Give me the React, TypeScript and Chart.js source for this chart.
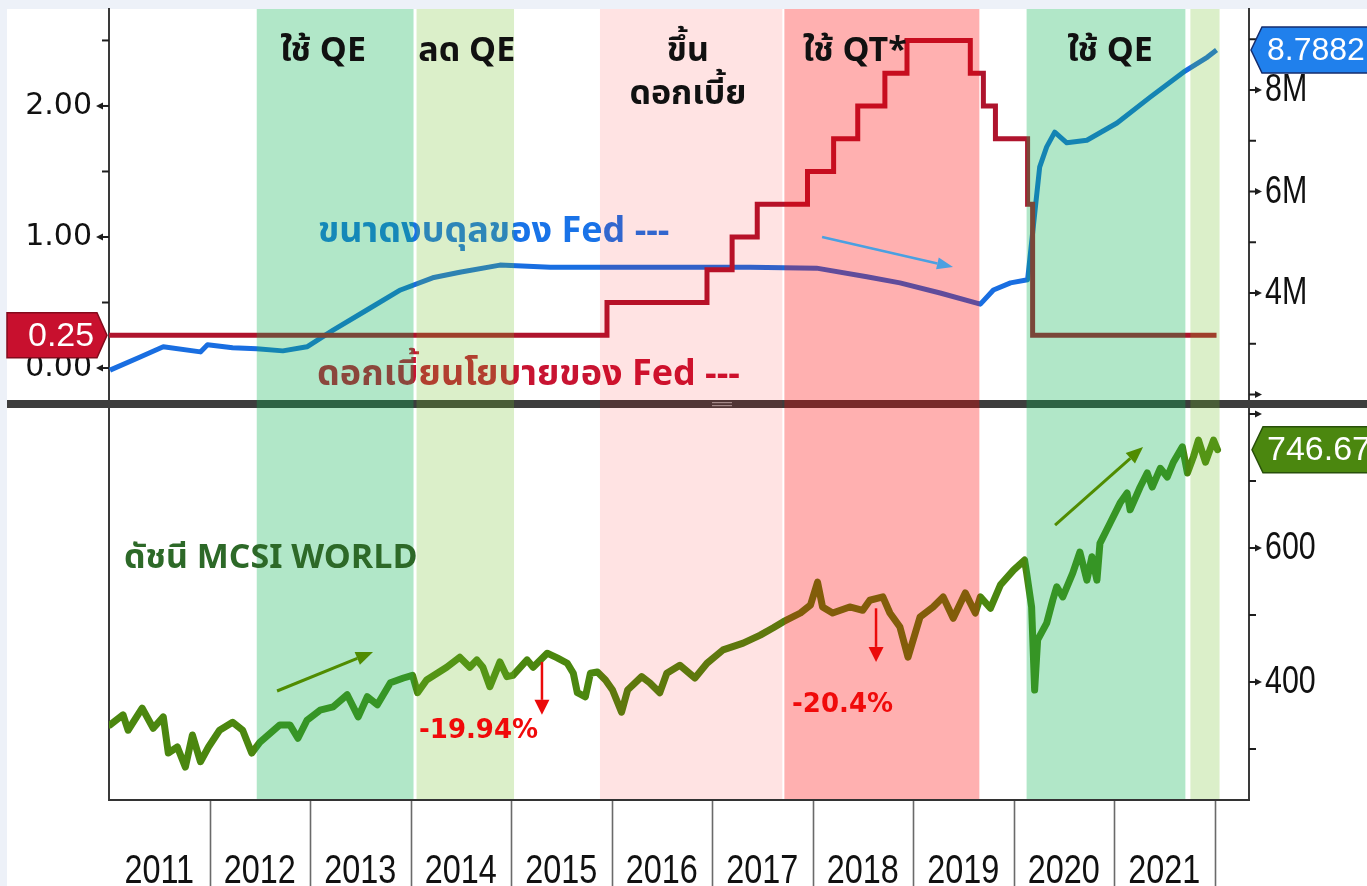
import React, { useEffect, useRef } from 'react';
import { Chart, registerables } from 'chart.js';

Chart.register(...registerables);

// ---------------- data ----------------
const xMin = 2011;
const xMax = 2022.343;

// Fed funds rate (upper bound, %), step changes
const rateDates = [2011.0, 2015.955, 2016.95, 2017.2, 2017.45, 2017.95, 2018.21, 2018.45, 2018.72, 2018.94, 2019.57, 2019.7, 2019.82, 2020.14, 2020.19, 2022.02];
const rateValues = [0.25, 0.5, 0.75, 1.0, 1.25, 1.5, 1.75, 2.0, 2.25, 2.5, 2.25, 2.0, 1.75, 1.25, 0.25, 0.25];

// Fed balance sheet (M)
const balanceDates = [2011.01, 2011.31, 2011.54, 2011.91, 2011.98, 2012.23, 2012.47, 2012.73, 2012.97, 2013.23, 2013.57, 2013.9, 2014.22, 2014.49, 2014.89, 2015.39, 2016.38, 2017.38, 2018.04, 2018.54, 2018.87, 2019.27, 2019.67, 2019.8, 2019.97, 2020.14, 2020.19, 2020.26, 2020.33, 2020.41, 2020.53, 2020.73, 2021.03, 2021.36, 2021.69, 2021.93, 2022.02];
const balanceValues = [2.48, 2.74, 2.94, 2.84, 2.98, 2.92, 2.9, 2.86, 2.94, 3.27, 3.67, 4.06, 4.3, 4.41, 4.55, 4.51, 4.51, 4.51, 4.49, 4.32, 4.2, 4.0, 3.78, 4.06, 4.2, 4.26, 5.18, 6.48, 6.88, 7.17, 6.96, 7.01, 7.35, 7.86, 8.35, 8.65, 8.7882];

// MSCI World index
const msciDates = [2011.01, 2011.14, 2011.19, 2011.33, 2011.44, 2011.54, 2011.59, 2011.68, 2011.76, 2011.83, 2011.91, 2011.99, 2012.1, 2012.23, 2012.33, 2012.42, 2012.5, 2012.7, 2012.8, 2012.88, 2012.97, 2013.1, 2013.23, 2013.37, 2013.48, 2013.57, 2013.67, 2013.8, 2013.93, 2014.02, 2014.07, 2014.16, 2014.36, 2014.49, 2014.59, 2014.66, 2014.72, 2014.79, 2014.89, 2014.96, 2015.02, 2015.16, 2015.22, 2015.36, 2015.46, 2015.56, 2015.62, 2015.66, 2015.74, 2015.79, 2015.86, 2015.94, 2016.01, 2016.1, 2016.16, 2016.3, 2016.38, 2016.48, 2016.55, 2016.68, 2016.83, 2016.95, 2017.11, 2017.31, 2017.48, 2017.61, 2017.71, 2017.88, 2017.98, 2018.05, 2018.1, 2018.2, 2018.37, 2018.5, 2018.57, 2018.7, 2018.77, 2018.87, 2018.95, 2019.07, 2019.2, 2019.3, 2019.4, 2019.52, 2019.62, 2019.67, 2019.77, 2019.87, 2020.0, 2020.11, 2020.13, 2020.18, 2020.21, 2020.24, 2020.33, 2020.39, 2020.43, 2020.49, 2020.59, 2020.66, 2020.73, 2020.78, 2020.83, 2020.86, 2020.96, 2021.06, 2021.13, 2021.16, 2021.26, 2021.33, 2021.38, 2021.46, 2021.53, 2021.59, 2021.68, 2021.73, 2021.79, 2021.84, 2021.91, 2021.99, 2022.03];
const msciValues = [336, 351, 328, 361, 331, 348, 294, 303, 273, 321, 281, 303, 328, 340, 328, 294, 310, 336, 336, 316, 343, 358, 363, 381, 348, 378, 366, 399, 406, 410, 384, 403, 422, 437, 422, 433, 422, 393, 430, 408, 410, 433, 422, 443, 436, 428, 413, 384, 378, 413, 415, 403, 388, 355, 388, 408, 399, 384, 413, 425, 406, 428, 448, 458, 470, 481, 490, 503, 515, 549, 512, 503, 512, 507, 522, 527, 503, 482, 437, 497, 512, 527, 495, 533, 503, 527, 510, 545, 567, 582, 563, 512, 388, 463, 488, 522, 542, 527, 563, 594, 552, 587, 552, 607, 637, 667, 682, 657, 691, 712, 691, 719, 706, 728, 751, 712, 736, 761, 728, 761, 746.67];

// axes
const yearLabels = [2011, 2012, 2013, 2014, 2015, 2016, 2017, 2018, 2019, 2020, 2021];
const yearSeparators = [2012, 2013, 2014, 2015, 2016, 2017, 2018, 2019, 2020, 2021, 2022];
const rateTickValues = [0, 1, 2];
const rateMinorMarks = [0.5, 1.5, 2.5];
const balanceTickValues = [4, 6, 8];
const balanceMajorMarks = [2, 4, 6, 8];
const balanceMinorMarks = [3, 5, 7, 9];
const msciTickValues = [400, 600];
const msciMajorMarks = [400, 600, 800];
const msciMinorMarks = [300, 500, 700];

// shaded periods
const bandStarts = [2012.47, 2014.06, 2015.885, 2017.72, 2020.13, 2021.76];
const bandEnds = [2014.03, 2015.03, 2017.7, 2019.66, 2021.71, 2022.05];
const bandColors = ['rgba(11,180,83,0.32)', 'rgba(110,190,40,0.25)', 'rgba(255,0,0,0.11)', 'rgba(255,0,0,0.31)', 'rgba(11,180,83,0.32)', 'rgba(110,190,40,0.25)'];
const bandTitles = [['ใช้ QE'], ['ลด QE'], ['ขึ้น', 'ดอกเบี้ย'], ['ใช้ QT*'], ['ใช้ QE']];
const bandTitleX = [2013.13, 2014.56, 2016.76, 2018.42, 2020.96];
const bandTitleRate = 2.344;

// annotations (data units)
const balanceLabel = 'ขนาดงบดุลของ Fed ---';
const balanceLabelAt = [2013.08, 0.962];
const rateLabel = 'ดอกเบี้ยนโยบายของ Fed ---';
const rateLabelAt = [2013.07, -0.13];
const blueArrowFrom = [2018.095, 1.0];
const blueArrowTo = [2019.398, 0.771];
const msciLabel = 'ดัชนี MCSI WORLD';
const msciLabelAt = [2011.149, 570];
const dropLabels = ['-19.94%', '-20.4%'];
const dropLabelX = [2014.677, 2018.299];
const dropLabelY = [316.4, 355];
const dropArrowX = [2015.308, 2018.632];
const dropArrowFrom = [430, 510];
const dropArrowTo = [351, 430];
const trendArrowFrom = [[2012.672, 386.6], [2020.413, 634.3]];
const trendArrowTo = [[2013.627, 444.8], [2021.289, 750.7]];

// ---------------- styles ----------------
const THAI = '"Noto Sans Thai", "Noto Sans Thai UI", "Noto Sans", "DejaVu Sans", sans-serif';
const SANS = '"Liberation Sans", Arial, sans-serif';
const RED = 'rgb(175,20,45)';
const BLUE = 'rgb(25,110,225)';
const GREEN = 'rgb(75,135,15)';
const LEFT_W = 109;
const RIGHT_W = 118;

function arrow(ctx: CanvasRenderingContext2D, x1: number, y1: number, x2: number, y2: number, color: string, width: number, head: number, headW: number) {
  const a = Math.atan2(y2 - y1, x2 - x1);
  const bx = x2 - head * Math.cos(a);
  const by = y2 - head * Math.sin(a);
  ctx.save();
  ctx.strokeStyle = color;
  ctx.fillStyle = color;
  ctx.lineWidth = width;
  ctx.beginPath();
  ctx.moveTo(x1, y1);
  ctx.lineTo(bx, by);
  ctx.stroke();
  ctx.beginPath();
  ctx.moveTo(x2, y2);
  ctx.lineTo(bx + (headW / 2) * Math.sin(a), by - (headW / 2) * Math.cos(a));
  ctx.lineTo(bx - (headW / 2) * Math.sin(a), by + (headW / 2) * Math.cos(a));
  ctx.closePath();
  ctx.fill();
  ctx.restore();
}

// condensed text (horizontal squeeze) like the reference's narrow axis font
function narrowText(ctx: CanvasRenderingContext2D, text: string, x: number, y: number, align: 'left' | 'center', squeeze: number) {
  ctx.save();
  ctx.translate(x, y);
  ctx.scale(squeeze, 1);
  ctx.textAlign = align;
  ctx.fillText(text, 0, 0);
  ctx.restore();
}

function marks(ctx: CanvasRenderingContext2D, scale: any, xAxis: number, dir: number, majors: number[], minors: number[]) {
  ctx.save();
  ctx.fillStyle = '#1e1e1e';
  ctx.strokeStyle = '#1e1e1e';
  ctx.lineWidth = 2;
  for (const v of majors) {
    const y = scale.getPixelForValue(v);
    ctx.beginPath();
    ctx.moveTo(xAxis, y);
    ctx.lineTo(xAxis + dir * 8, y);
    ctx.stroke();
    ctx.beginPath();
    ctx.moveTo(xAxis + dir * 6, y - 3.5);
    ctx.lineTo(xAxis + dir * 13, y);
    ctx.lineTo(xAxis + dir * 6, y + 3.5);
    ctx.closePath();
    ctx.fill();
  }
  for (const v of minors) {
    const y = scale.getPixelForValue(v);
    ctx.beginPath();
    ctx.moveTo(xAxis, y);
    ctx.lineTo(xAxis + dir * 7, y);
    ctx.stroke();
  }
  ctx.restore();
}

function rightLabels(ctx: CanvasRenderingContext2D, scale: any, xAxis: number, values: number[], fmt: (v: number) => string) {
  ctx.save();
  ctx.fillStyle = '#111';
  ctx.font = `38px ${SANS}`;
  ctx.textBaseline = 'middle';
  for (const v of values) {
    narrowText(ctx, fmt(v), xAxis + 16, scale.getPixelForValue(v) + 1, 'left', 0.8);
  }
  ctx.restore();
}

function tag(ctx: CanvasRenderingContext2D, xStart: number, xEnd: number, tipLeft: boolean, y: number, h: number, fill: string, stroke: string, text: string, textX: number, font: string) {
  ctx.save();
  ctx.beginPath();
  if (tipLeft) {
    ctx.moveTo(xStart, y);
    ctx.lineTo(xStart + 11, y - h / 2);
    ctx.lineTo(xEnd, y - h / 2);
    ctx.lineTo(xEnd, y + h / 2);
    ctx.lineTo(xStart + 11, y + h / 2);
  } else {
    ctx.moveTo(xStart, y - h / 2);
    ctx.lineTo(xEnd - 10, y - h / 2);
    ctx.lineTo(xEnd, y);
    ctx.lineTo(xEnd - 10, y + h / 2);
    ctx.lineTo(xStart, y + h / 2);
  }
  ctx.closePath();
  ctx.fillStyle = fill;
  ctx.fill();
  ctx.lineWidth = 1.5;
  ctx.strokeStyle = stroke;
  ctx.stroke();
  ctx.fillStyle = '#ffffff';
  ctx.font = font;
  ctx.textAlign = 'left';
  ctx.textBaseline = 'middle';
  ctx.fillText(text, textX, y + 1);
  ctx.restore();
}

function vAxisOpts(position: 'left' | 'right', width: number, extra: any) {
  return {
    type: 'linear',
    position,
    grid: { display: false, drawTicks: false },
    border: { display: true, color: '#3a3a3a', width: 2 },
    afterFit: (s: any) => {
      s.width = width;
      s.paddingTop = 0;
      s.paddingBottom = 0;
    },
    ...extra,
  };
}

const topPlugin = {
  id: 'topDecor',
  afterDatasetsDraw(chart: any) {
    const { ctx, chartArea: ca, scales } = chart;
    const x = scales.x;
    const yR = scales.yRate;
    const yB = scales.yBal;
    ctx.save();
    // series labels (beneath the shading)
    ctx.font = `bold 36px ${THAI}`;
    ctx.textAlign = 'left';
    ctx.textBaseline = 'alphabetic';
    ctx.fillStyle = 'rgb(25,115,232)';
    ctx.fillText(balanceLabel, x.getPixelForValue(balanceLabelAt[0]), yR.getPixelForValue(balanceLabelAt[1]));
    ctx.fillStyle = 'rgb(200,20,50)';
    ctx.fillText(rateLabel, x.getPixelForValue(rateLabelAt[0]), yR.getPixelForValue(rateLabelAt[1]));
    // divider between panels
    ctx.fillStyle = '#3d3d3d';
    ctx.fillRect(7, ca.bottom, chart.width - 7, chart.height - ca.bottom);
    ctx.fillStyle = '#9a9a9a';
    ctx.fillRect(712, ca.bottom + 2, 20, 1.2);
    ctx.fillRect(712, ca.bottom + 5, 20, 1.2);
    // shaded periods
    for (let i = 0; i < bandStarts.length; i++) {
      const x0 = x.getPixelForValue(bandStarts[i]);
      const x1 = x.getPixelForValue(bandEnds[i]);
      ctx.fillStyle = bandColors[i];
      ctx.fillRect(x0, ca.top, x1 - x0, chart.height - ca.top);
    }
    // titles
    ctx.fillStyle = '#111111';
    ctx.font = `bold 34px ${THAI}`;
    ctx.textAlign = 'center';
    const tb = yR.getPixelForValue(bandTitleRate);
    bandTitles.forEach((lines, i) => {
      lines.forEach((ln, j) => {
        ctx.fillText(ln, x.getPixelForValue(bandTitleX[i]), tb + j * 43);
      });
    });
    // arrow
    arrow(ctx, x.getPixelForValue(blueArrowFrom[0]), yR.getPixelForValue(blueArrowFrom[1]), x.getPixelForValue(blueArrowTo[0]), yR.getPixelForValue(blueArrowTo[1]), 'rgb(75,160,225)', 2.5, 16, 12);
    // axis marks and right labels
    marks(ctx, yR, ca.left, -1, rateTickValues, rateMinorMarks);
    marks(ctx, yB, ca.right, 1, balanceMajorMarks, balanceMinorMarks);
    rightLabels(ctx, yB, ca.right, balanceTickValues, (v) => `${v}M`);
    // last-value tags
    const rLast = rateValues[rateValues.length - 1];
    tag(ctx, 7, 107, false, yR.getPixelForValue(rLast), 45, 'rgb(200,16,46)', 'rgb(130,10,28)', rLast.toFixed(2), 28, `34px ${SANS}`);
    const bLast = balanceValues[balanceValues.length - 1];
    tag(ctx, ca.right + 2, chart.width + 4, true, yB.getPixelForValue(bLast), 46, 'rgb(32,128,236)', 'rgb(20,45,110)', bLast.toFixed(4), 1267, `32px ${SANS}`);
    ctx.restore();
  },
};

const bottomPlugin = {
  id: 'bottomDecor',
  afterDatasetsDraw(chart: any) {
    const { ctx, chartArea: ca, scales } = chart;
    const x = scales.x;
    const yM = scales.yMsci;
    ctx.save();
    // shaded periods
    for (let i = 0; i < bandStarts.length; i++) {
      const x0 = x.getPixelForValue(bandStarts[i]);
      const x1 = x.getPixelForValue(bandEnds[i]);
      ctx.fillStyle = bandColors[i];
      ctx.fillRect(x0, ca.top, x1 - x0, ca.bottom - ca.top - 1);
    }
    // series label
    ctx.font = `bold 34px ${THAI}`;
    ctx.textAlign = 'left';
    ctx.textBaseline = 'alphabetic';
    ctx.fillStyle = 'rgb(45,105,40)';
    ctx.fillText(msciLabel, x.getPixelForValue(msciLabelAt[0]), yM.getPixelForValue(msciLabelAt[1]));
    // drawdown labels & arrows
    ctx.font = 'bold 26px "DejaVu Sans", sans-serif';
    ctx.textAlign = 'center';
    ctx.fillStyle = 'rgb(240,10,10)';
    dropLabels.forEach((t, i) => {
      ctx.fillText(t, x.getPixelForValue(dropLabelX[i]), yM.getPixelForValue(dropLabelY[i]));
      const ax = x.getPixelForValue(dropArrowX[i]);
      arrow(ctx, ax, yM.getPixelForValue(dropArrowFrom[i]), ax, yM.getPixelForValue(dropArrowTo[i]), 'rgb(235,10,10)', 2.5, 15, 15);
    });
    trendArrowFrom.forEach((f, i) => {
      const t = trendArrowTo[i];
      arrow(ctx, x.getPixelForValue(f[0]), yM.getPixelForValue(f[1]), x.getPixelForValue(t[0]), yM.getPixelForValue(t[1]), 'rgb(80,140,0)', 3, 17, 14);
    });
    // x axis line
    ctx.strokeStyle = '#333';
    ctx.lineWidth = 2;
    ctx.beginPath();
    ctx.moveTo(ca.left, ca.bottom);
    ctx.lineTo(ca.right + 1, ca.bottom);
    ctx.stroke();
    // year separators
    ctx.strokeStyle = '#6a6a6a';
    ctx.lineWidth = 1.6;
    yearSeparators.forEach((yr) => {
      const px = Math.round(x.getPixelForValue(yr)) + 0.5;
      ctx.beginPath();
      ctx.moveTo(px, ca.bottom + 1);
      ctx.lineTo(px, chart.height);
      ctx.stroke();
    });
    // year labels
    ctx.fillStyle = '#111';
    ctx.font = `40px ${SANS}`;
    ctx.textBaseline = 'alphabetic';
    yearLabels.forEach((yr) => {
      narrowText(ctx, String(yr), x.getPixelForValue(yr + 0.5), ca.bottom + 83, 'center', 0.81);
    });
    // axis marks and labels
    marks(ctx, yM, ca.right, 1, msciMajorMarks, msciMinorMarks);
    rightLabels(ctx, yM, ca.right, msciTickValues, (v) => String(v));
    // tag
    const mLast = msciValues[msciValues.length - 1];
    tag(ctx, ca.right + 3, chart.width + 4, true, yM.getPixelForValue(mLast), 46, 'rgb(75,135,15)', 'rgb(40,80,10)', mLast.toFixed(2), 1267, `34px ${SANS}`);
    ctx.restore();
  },
};

function topConfig(): any {
  return {
    type: 'line',
    data: {
      datasets: [
        {
          label: 'Fed funds rate',
          data: rateDates.map((d, i) => ({ x: d, y: rateValues[i] })),
          yAxisID: 'yRate',
          borderColor: RED,
          borderWidth: 5,
          stepped: 'before',
          pointRadius: 0,
          fill: false,
        },
        {
          label: 'Fed balance sheet',
          data: balanceDates.map((d, i) => ({ x: d, y: balanceValues[i] })),
          yAxisID: 'yBal',
          borderColor: BLUE,
          borderWidth: 5,
          pointRadius: 0,
          tension: 0,
          borderJoinStyle: 'round',
          fill: false,
        },
      ],
    },
    options: {
      animation: false,
      responsive: false,
      devicePixelRatio: 1,
      events: [],
      layout: { padding: { top: 9, bottom: 8, left: 0, right: 0 } },
      plugins: { legend: { display: false }, tooltip: { enabled: false } },
      scales: {
        x: { type: 'linear', min: xMin, max: xMax, display: false },
        yRate: vAxisOpts('left', LEFT_W, {
          min: -0.244,
          max: 2.74,
          afterBuildTicks: (s: any) => {
            s.ticks = rateTickValues.map((v) => ({ value: v }));
          },
          ticks: {
            padding: 17,
            color: '#111',
            font: { family: '"DejaVu Sans", sans-serif', size: 30 },
            callback: (v: any) => Number(v).toFixed(2),
          },
        }),
        yBal: vAxisOpts('right', RIGHT_W, {
          min: 1.892,
          max: 9.596,
          afterBuildTicks: (s: any) => {
            s.ticks = balanceTickValues.map((v) => ({ value: v }));
          },
          ticks: { display: false },
        }),
      },
    },
    plugins: [topPlugin],
  };
}

function bottomConfig(): any {
  return {
    type: 'line',
    data: {
      datasets: [
        {
          label: 'MSCI World',
          data: msciDates.map((d, i) => ({ x: d, y: msciValues[i] })),
          yAxisID: 'yMsci',
          borderColor: GREEN,
          borderWidth: 7,
          pointRadius: 0,
          tension: 0,
          borderJoinStyle: 'round',
          borderCapStyle: 'round',
          fill: false,
        },
      ],
    },
    options: {
      animation: false,
      responsive: false,
      devicePixelRatio: 1,
      events: [],
      layout: { padding: { top: 0, bottom: 86, left: 0, right: 0 } },
      plugins: { legend: { display: false }, tooltip: { enabled: false } },
      scales: {
        x: { type: 'linear', min: xMin, max: xMax, display: false },
        yL: vAxisOpts('left', LEFT_W, {
          min: 0,
          max: 1,
          ticks: { display: false },
        }),
        yMsci: vAxisOpts('right', RIGHT_W, {
          min: 223.9,
          max: 808.95,
          afterBuildTicks: (s: any) => {
            s.ticks = msciTickValues.map((v) => ({ value: v }));
          },
          ticks: { display: false },
        }),
      },
    },
    plugins: [bottomPlugin],
  };
}

export default function App() {
  const topRef = useRef<HTMLCanvasElement>(null);
  const botRef = useRef<HTMLCanvasElement>(null);
  useEffect(() => {
    const c1 = new Chart(topRef.current as HTMLCanvasElement, topConfig());
    const c2 = new Chart(botRef.current as HTMLCanvasElement, bottomConfig());
    return () => {
      c1.destroy();
      c2.destroy();
    };
  }, []);
  return (
    <div style={{ position: 'absolute', left: 0, top: 0, width: 1367, height: 886, background: '#edf1f8', overflow: 'hidden' }}>
      <div style={{ position: 'absolute', left: 7, top: 9, width: 1360, height: 877, background: '#ffffff' }} />
      <canvas ref={topRef} width={1367} height={408} style={{ position: 'absolute', left: 0, top: 0, width: 1367, height: 408, display: 'block' }} />
      <canvas ref={botRef} width={1367} height={478} style={{ position: 'absolute', left: 0, top: 408, width: 1367, height: 478, display: 'block' }} />
    </div>
  );
}
